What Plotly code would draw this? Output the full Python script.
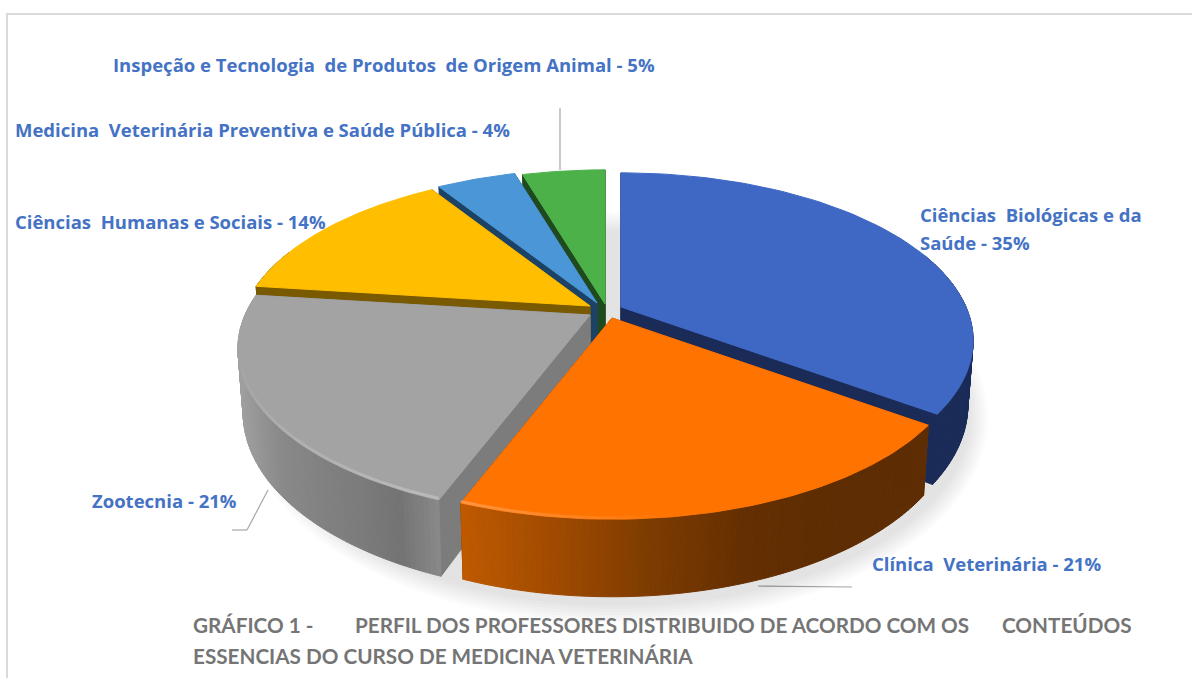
import numpy as np
import plotly.graph_objects as go

# ---- data ----
categories = ["Ciências Biológicas e da Saúde", "Clínica Veterinária", "Zootecnia",
              "Ciências Humanas e Sociais", "Medicina Veterinária Preventiva e Saúde Pública",
              "Inspeção e Tecnologia de Produtos de Origem Animal"]
values = [35, 20.8, 21.2, 14, 4.4, 4.6]

# ---- styling / projection ----
top_colors = ["#3F68C5", "#FF7300", "#A3A3A3", "#FFBE00", "#4A96D6", "#4DB14A"]
face_colors = ["#1A2B58", "#7A3A02", "#7C7C7C", "#7A5A00", "#1C4266", "#1F4A1E"]
# gradient stops along the outer wall (by x, left to right)
wall_stops = [["#1A2B58", "#1A2B58"],
              ["#C05A00", "#A04B00", "#7E3C01", "#653002", "#5E2D03", "#5E2D03"],
              ["#A0A0A0", "#8A8A8A", "#828282", "#7C7C7C", "#747474", "#8A8A8A"],
              ["#7A5A00", "#7A5A00"], ["#1C4266", "#1C4266"], ["#1F4A1E", "#1F4A1E"]]
apex = [(621, 307), (612, 318), (590, 315), (590, 306), (597, 303), (605, 304)]
draw_order = [5, 4, 3, 2, 0, 1]
A, B, K, DEPTH = 345, 161, 0.2, 62

def hex_rgb(h):
    return np.array([int(h[i:i + 2], 16) for i in (1, 3, 5)], float)

def grad(stops, t):
    t = min(max(t, 0), 1) * (len(stops) - 1)
    i = min(int(t), len(stops) - 2)
    c = hex_rgb(stops[i]) * (1 - (t - i)) + hex_rgb(stops[i + 1]) * (t - i)
    return "rgb(%d,%d,%d)" % tuple(c)

def project(ap, th, r=1.0, bottom=False):
    X, Y = r * np.sin(th), r * np.cos(th)
    w = 1 + K * Y
    x = ap[0] + A * X / w * (0.985 if bottom else 1)
    y = ap[1] - B * Y / w + (DEPTH / w if bottom else 0)
    return x, y

fig = go.Figure()

def poly(xs, ys, color, line=None, lw=1):
    fig.add_trace(go.Scatter(x=list(xs), y=list(ys), mode="lines", fill="toself", fillcolor=color,
                             line=dict(color=line or color, width=lw), hoverinfo="skip", showlegend=False))

# soft drop shadow
for i in range(7):
    t = np.linspace(0, 2 * np.pi, 150)
    poly(618 + (352 + i * 3) * np.cos(t), 418 + (188 + i * 3) * np.sin(t), "rgba(0,0,0,0.017)", "rgba(0,0,0,0)", 0)

edges = np.cumsum([0] + values) / sum(values) * 2 * np.pi
for idx in draw_order:
    ap, t0, t1 = apex[idx], edges[idx], edges[idx + 1]
    # cut faces
    for th in (t1, t0):
        xa, ya = project(ap, th, 0)
        xr, yr = project(ap, th)
        xb, yb = project(ap, th, bottom=True)
        xc, yc = project(ap, th, 0, bottom=True)
        poly([xa, xr, xb, xc, xa], [ya, yr, yb, yc, ya], face_colors[idx])
    # outer wall, in small strips so that it can carry a gradient
    n = max(int((t1 - t0) / np.radians(0.8)), 2)
    ths = np.linspace(t0, t1, n + 1)
    xs_all = [project(ap, th)[0] for th in ths]
    lo, hi = min(xs_all), max(xs_all)
    for a, b in zip(ths[:-1], ths[1:]):
        if np.cos((a + b) / 2) > 0.35:
            continue
        x1, y1 = project(ap, a); x2, y2 = project(ap, b)
        x3, y3 = project(ap, b, bottom=True); x4, y4 = project(ap, a, bottom=True)
        c = grad(wall_stops[idx], ((x1 + x2) / 2 - lo) / max(hi - lo, 1))
        poly([x1, x2, x3, x4, x1], [y1, y2, y3, y4, y1], c)
    # top surface
    ths = np.linspace(t0, t1, 80)
    px, py = project(ap, ths)
    x0, y0 = project(ap, 0.0, 0)
    poly(np.r_[x0, px, x0], np.r_[y0, py, y0], top_colors[idx])
    # bevel highlight along the front rim, fading away from the slice corner
    if idx in (1, 2):
        start = np.radians(172) if idx == 1 else np.radians(255)
        steps = np.linspace(start, t1 if idx == 1 else t0, 13)
        for j, (a, b) in enumerate(zip(steps[:-1], steps[1:])):
            alpha = 0.24 * (j + 1) / 12
            bx, by = project(ap, np.linspace(a, b, 6))
            fig.add_trace(go.Scatter(x=bx, y=by - 1.5, mode="lines", hoverinfo="skip", showlegend=False,
                                     line=dict(color="rgba(255,255,255,%.3f)" % alpha, width=3)))

# ---- text ----
BLUE = "#4472C4"
GREY = "#757575"
labels = [
    ("Inspeção e Tecnologia  de Produtos  de Origem Animal - 5%", 111, 64),
    ("Medicina  Veterinária Preventiva e Saúde Pública - 4%", 13, 129),
    ("Ciências  Humanas e Sociais - 14%", 13, 221),
    ("Ciências  Biológicas e da", 918, 214),
    ("Saúde - 35%", 918, 242),
    ("Clínica  Veterinária - 21%", 870, 563),
    ("Zootecnia - 21%", 90, 500),
]
for txt, x, y in labels:
    fig.add_annotation(x=x, y=y, text=txt.replace("  ", "&nbsp; "), showarrow=False, xanchor="left", yanchor="middle",
                       font=dict(family="Open Sans", size=18.5, color=BLUE, weight="bold"))
caption = [("GRÁFICO 1 -", 191, 625), ("PERFIL DOS PROFESSORES DISTRIBUIDO DE ACORDO COM OS", 353, 625),
           ("CONTEÚDOS", 1000, 625), ("ESSENCIAS DO CURSO DE MEDICINA VETERINÁRIA", 191, 656)]
for txt, x, y in caption:
    fig.add_annotation(x=x, y=y, text=txt, showarrow=False, xanchor="left", yanchor="middle",
                       font=dict(family="Lato", size=20.7, color=GREY, weight="bold"))

# ---- leader lines and frame ----
shapes = []
for xs, ys in [((560, 560), (108, 170)), ((268, 247, 232), (490, 530, 530)), ((758, 852), (586, 587))]:
    for i in range(len(xs) - 1):
        shapes.append(dict(type="line", x0=xs[i], x1=xs[i + 1], y0=ys[i], y1=ys[i + 1],
                           line=dict(color="#A6A6A6", width=1.2), layer="below"))
shapes.append(dict(type="line", x0=6, x1=1192, y0=14, y1=14, line=dict(color="#D9D9D9", width=2), layer="below"))
shapes.append(dict(type="line", x0=7, x1=7, y0=14, y1=678, line=dict(color="#D9D9D9", width=2), layer="below"))

fig.update_layout(width=1192, height=678, margin=dict(l=0, r=0, t=0, b=0), paper_bgcolor="white",
                  plot_bgcolor="white", shapes=shapes, showlegend=False,
                  xaxis=dict(range=[0, 1192], visible=False, fixedrange=True),
                  yaxis=dict(range=[678, 0], visible=False, fixedrange=True))
fig.write_html("out.html", config={"displayModeBar": False},
               post_script="document.body.style.margin='0';document.documentElement.style.overflow='hidden';")
